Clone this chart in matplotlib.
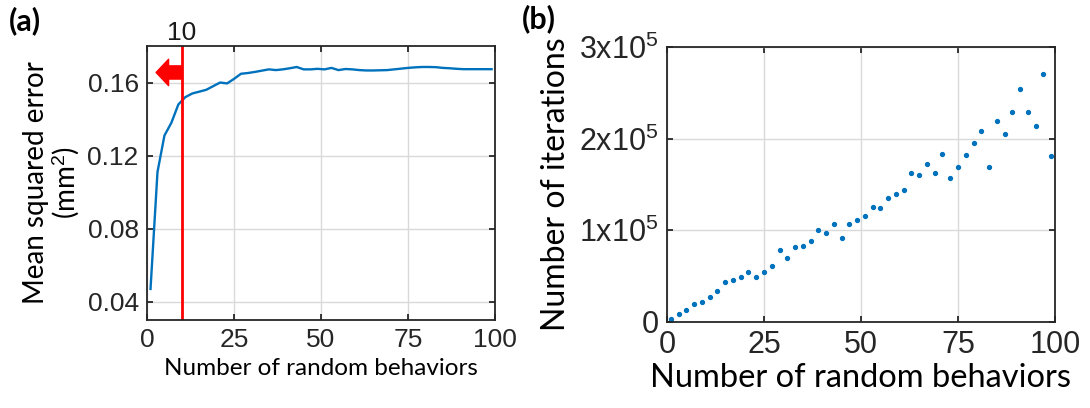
import matplotlib.pyplot as plt
from matplotlib.ticker import FixedLocator, FixedFormatter

# mean squared error vs number of random behaviors
n_beh = [1, 3, 5, 7, 9, 11, 13, 15, 17, 19, 21, 23, 25, 27, 29, 31, 33, 35, 37, 39,
         41, 43, 45, 47, 49, 51, 53, 55, 57, 59, 61, 63, 65, 67, 69, 71, 73, 75, 77, 79,
         81, 83, 85, 87, 89, 91, 93, 95, 97, 99]
mse = [0.047, 0.111, 0.131, 0.138, 0.148, 0.152, 0.154, 0.155, 0.156, 0.158,
       0.160, 0.1595, 0.162, 0.1648, 0.1652, 0.1658, 0.1665, 0.1672, 0.1668, 0.1672,
       0.1678, 0.1685, 0.1672, 0.1672, 0.1675, 0.1672, 0.168, 0.1668, 0.1674, 0.1672,
       0.1668, 0.1666, 0.1666, 0.1667, 0.1668, 0.1672, 0.1676, 0.168, 0.1683, 0.1685,
       0.1685, 0.1684, 0.168, 0.1678, 0.1675, 0.1673, 0.1673, 0.1673, 0.1673, 0.1673]

# iterations needed (x1e3)
iters_k = [3.3, 8.4, 12.7, 20, 21.8, 27.6, 34.2, 44, 46, 49.4,
           54.9, 49.4, 54.2, 61.4, 78.2, 70.1, 81.8, 82.9, 88, 100.7,
           97.4, 106.5, 92, 106.5, 111, 115.2, 125.4, 124, 134.9, 139.6,
           144, 162.5, 160.7, 172.6, 162.8, 182.9, 156.7, 169, 181.8, 194.9,
           208.6, 169.4, 218.9, 205.3, 229.3, 253.8, 229.3, 214.1, 270.4, 180.7]
iters = [v * 1e3 for v in iters_k]

x_ticks = [0, 25, 50, 75, 100]
mse_ticks = [0.04, 0.08, 0.12, 0.16]
it_ticks = [0, 1e5, 2e5, 3e5]
it_labels = ['0', '1x10$^{5}$', '2x10$^{5}$', '3x10$^{5}$']
chosen = 10

blue = '#0072BD'
tick_font = 'Liberation Sans'
label_font = 'Lato'
plt.rcParams['mathtext.fontset'] = 'custom'
plt.rcParams['mathtext.rm'] = tick_font
plt.rcParams['mathtext.it'] = tick_font

fig = plt.figure(figsize=(10.9, 4.08), dpi=100)
ax1 = fig.add_axes([0.1349, 0.2157, 0.3193, 0.6716])
ax2 = fig.add_axes([0.6119, 0.2108, 0.3560, 0.6740])


def style(ax, size):
    ax.grid(True, color='#d9d9d9', linewidth=1.0)
    ax.set_axisbelow(True)
    for s in ax.spines.values():
        s.set_linewidth(1.3)
        s.set_color('#262626')
    ax.tick_params(direction='in', length=4, width=1.3, top=True, right=True,
                   labelsize=size, colors='#262626', pad=6)
    for lab in ax.get_xticklabels() + ax.get_yticklabels():
        lab.set_family(tick_font)


# (a)
ax1.plot(n_beh, mse, color=blue, linewidth=1.7)
ax1.axvline(chosen, color='red', linewidth=2.0)
ax1.annotate('', xy=(2.6, 0.1655), xytext=(chosen, 0.1655),
             arrowprops=dict(arrowstyle='simple,head_length=0.9,head_width=1.9,tail_width=0.95',
                             color='red', mutation_scale=10, shrinkA=0, shrinkB=0))
ax1.set_xlim(0, 100)
ax1.set_ylim(0.03, 0.18)
ax1.set_xticks(x_ticks)
ax1.set_yticks(mse_ticks)
ax1.set_yticklabels(['0.04', '0.08', '0.12', '0.16'])
style(ax1, 19)
ax1.text(chosen, 0.1805, str(chosen), ha='center', va='bottom',
         fontsize=19, family=tick_font, color='#1a1a1a')
ax1.set_xlabel('Number of random behaviors', fontsize=17.5, family=label_font, labelpad=4)
ax1.set_ylabel('Mean squared error\n(mm$^2$)', fontsize=20, family=label_font,
               labelpad=4, linespacing=1.05)
fig.text(0.008, 0.925, '(a)', fontsize=22, fontweight='bold', family=label_font)

# (b)
ax2.plot(n_beh, iters, linestyle='none', marker='o', markersize=2.8, color=blue)
ax2.set_xlim(0, 100)
ax2.set_ylim(0, 3e5)
ax2.set_xticks(x_ticks)
ax2.yaxis.set_major_locator(FixedLocator(it_ticks))
ax2.yaxis.set_major_formatter(FixedFormatter(it_labels))
style(ax2, 22)
ax2.set_xlabel('Number of random behaviors', fontsize=23.5, family=label_font, labelpad=2)
ax2.set_ylabel('Number of iterations', fontsize=23, family=label_font, labelpad=6)
fig.text(0.479, 0.93, '(b)', fontsize=22, fontweight='bold', family=label_font)

fig.savefig('out.png', dpi=100)
